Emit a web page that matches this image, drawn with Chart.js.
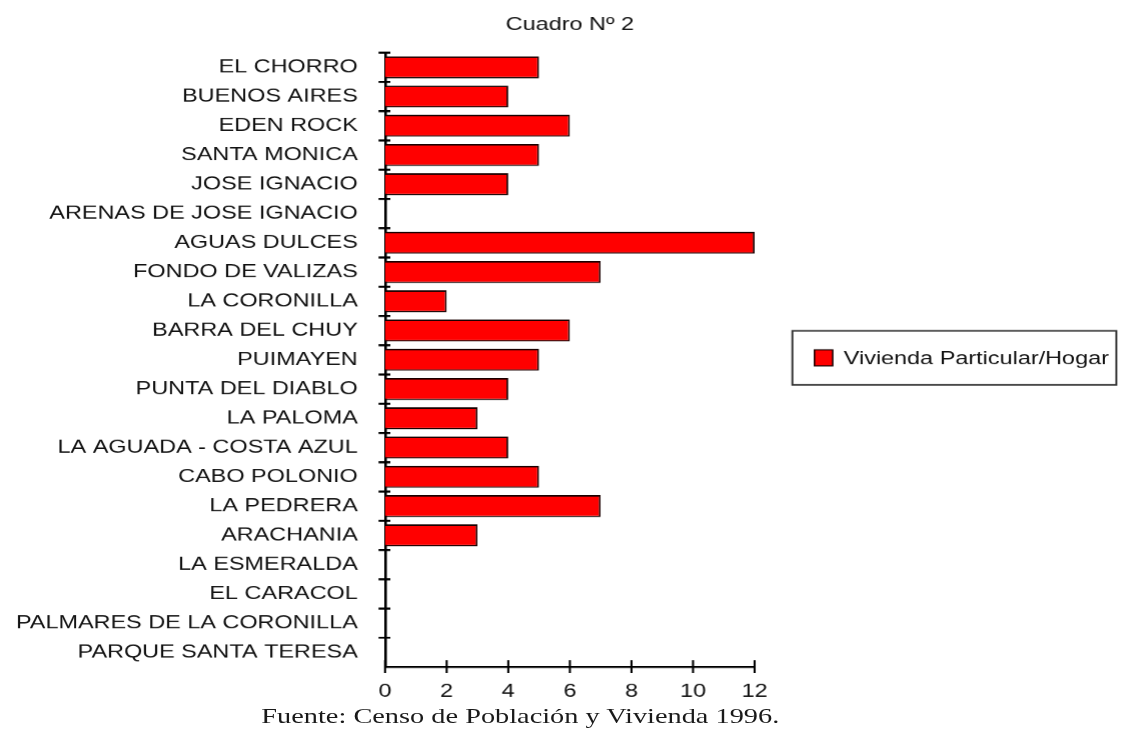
<!DOCTYPE html>
<html>
<head>
<meta charset="utf-8">
<script src="https://cdn.jsdelivr.net/npm/chart.js@4.4.1/dist/chart.umd.min.js"></script>
<style>
  html, body { margin: 0; padding: 0; background: #fff; }
  /* the whole figure is drawn narrow and stretched sideways */
  #wrap {
    position: absolute; left: 0; top: 0;
    width: 863px; height: 743px;
    transform: scaleX(1.3); transform-origin: 0 0;
  }
  #fuente {
    position: absolute; left: 201px; top: 702px;
    font-family: "Liberation Serif", serif; font-size: 21.8px;
    color: #1a1a1a; white-space: nowrap; line-height: 28px;
  }
</style>
</head>
<body>
<div id="wrap">
  <canvas id="chart"></canvas>
  <div id="fuente">Fuente: Censo de Población y Vivienda 1996.</div>
</div>
<script>
const localidades = [
  "EL CHORRO", "BUENOS AIRES", "EDEN ROCK", "SANTA MONICA", "JOSE IGNACIO",
  "ARENAS DE JOSE IGNACIO", "AGUAS DULCES", "FONDO DE VALIZAS", "LA CORONILLA",
  "BARRA DEL CHUY", "PUIMAYEN", "PUNTA DEL DIABLO", "LA PALOMA",
  "LA AGUADA - COSTA AZUL", "CABO POLONIO", "LA PEDRERA", "ARACHANIA",
  "LA ESMERALDA", "EL CARACOL", "PALMARES DE LA CORONILLA", "PARQUE SANTA TERESA"
];
const viviendaHogar = [5, 4, 6, 5, 4, 0, 12, 7, 2, 6, 5, 4, 3, 4, 5, 7, 3, 0, 0, 0, 0];
const serieNombre = "Vivienda Particular/Hogar";
const tituloTexto = "Cuadro Nº 2";
const ejeMin = 0, ejeMax = 12, ejePaso = 2;

const FONT = "'Liberation Sans', Arial, sans-serif";

// tick marks crossing both axes
const axisTicks = {
  id: "axisTicks",
  afterDatasetsDraw(chart) {
    const { ctx, scales: { x, y } } = chart;
    ctx.save();
    ctx.strokeStyle = "#000";
    ctx.beginPath();
    ctx.lineWidth = 1.6;
    x.ticks.forEach((t, i) => {
      const px = x.getPixelForTick(i);
      ctx.moveTo(px, y.bottom - 7);
      ctx.lineTo(px, y.bottom + 6);
    });
    ctx.stroke();
    ctx.beginPath();
    ctx.lineWidth = 2;
    const band = (y.bottom - y.top) / y.ticks.length;
    y.ticks.forEach((t, i) => {
      const py = y.getPixelForTick(i) - band / 2;
      ctx.moveTo(x.left - 5, py);
      ctx.lineTo(x.left + 4, py);
    });
    ctx.stroke();
    ctx.restore();
  }
};

// framed legend to the right of the plot
const boxLegend = {
  id: "boxLegend",
  afterDraw(chart) {
    const { ctx, chartArea } = chart;
    const ds = chart.data.datasets[0];
    const bx = chartArea.right + 29, bw = 249, bh = 54;
    const by = (chartArea.top + chartArea.bottom) / 2 - bh / 2 - 2;
    ctx.save();
    ctx.strokeStyle = "#333";
    ctx.lineWidth = 1.5;
    ctx.strokeRect(bx, by, bw, bh);
    const cy = by + bh / 2;
    ctx.fillStyle = ds.backgroundColor;
    ctx.fillRect(bx + 17, cy - 8, 14, 16);
    ctx.strokeStyle = ds.borderColor;
    ctx.lineWidth = 1.2;
    ctx.strokeRect(bx + 17, cy - 8, 14, 16);
    ctx.fillStyle = "#111";
    ctx.font = "18px " + FONT;
    ctx.textBaseline = "middle";
    ctx.fillText(ds.label, bx + 39.5, cy + 1);
    ctx.restore();
  }
};

new Chart(document.getElementById("chart"), {
  type: "bar",
  data: {
    labels: localidades,
    datasets: [{
      label: serieNombre,
      data: viviendaHogar,
      backgroundColor: "#ff0000",
      borderColor: "#1a0000",
      borderWidth: 1.4,
      categoryPercentage: 1,
      barPercentage: 0.75
    }]
  },
  options: {
    indexAxis: "y",
    responsive: true,
    maintainAspectRatio: false,
    animation: false,
    devicePixelRatio: 1.3,
    layout: { padding: { left: 9, right: 283, top: 0, bottom: 27 } },
    plugins: {
      legend: { display: false },
      tooltip: { enabled: false },
      title: {
        display: true,
        text: tituloTexto,
        fullSize: false,
        color: "#111",
        font: { family: FONT, size: 18, weight: "normal" },
        padding: { top: 14, bottom: 17 }
      }
    },
    scales: {
      x: {
        min: ejeMin, max: ejeMax,
        grid: { display: false, drawTicks: false },
        border: { display: true, color: "#000", width: 2 },
        ticks: { stepSize: ejePaso, padding: 14, color: "#111", font: { family: FONT, size: 18 } }
      },
      y: {
        grid: { display: false, drawTicks: false },
        border: { display: true, color: "#000", width: 2 },
        ticks: { padding: 21, color: "#111", font: { family: FONT, size: 18 } },
        // room for the longest place name
        afterFit(scale) { scale.width = 287; }
      }
    }
  },
  plugins: [axisTicks, boxLegend]
});
</script>
</body>
</html>
